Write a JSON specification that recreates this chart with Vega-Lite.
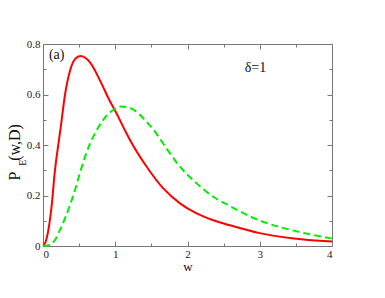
{
  "$schema": "https://vega.github.io/schema/vega-lite/v6.json",
  "width": 289,
  "height": 202,
  "autosize": "none",
  "padding": {"left": 43, "top": 44, "right": 53, "bottom": 52},
  "background": "white",
  "config": {"view": {"stroke": null}, "font": "Liberation Serif"},
  "datasets": {
    "curves": [
      {"s": "solid", "w": 0, "p": 0},
      {"s": "solid", "w": 0.03, "p": 0.012},
      {"s": "solid", "w": 0.074, "p": 0.063},
      {"s": "solid", "w": 0.12, "p": 0.16},
      {"s": "solid", "w": 0.16, "p": 0.285},
      {"s": "solid", "w": 0.21, "p": 0.398},
      {"s": "solid", "w": 0.245, "p": 0.47},
      {"s": "solid", "w": 0.305, "p": 0.6},
      {"s": "solid", "w": 0.374, "p": 0.694},
      {"s": "solid", "w": 0.443, "p": 0.74},
      {"s": "solid", "w": 0.52, "p": 0.752},
      {"s": "solid", "w": 0.65, "p": 0.727},
      {"s": "solid", "w": 0.79, "p": 0.655},
      {"s": "solid", "w": 0.923, "p": 0.575},
      {"s": "solid", "w": 0.997, "p": 0.537},
      {"s": "solid", "w": 1.135, "p": 0.458},
      {"s": "solid", "w": 1.204, "p": 0.42},
      {"s": "solid", "w": 1.435, "p": 0.314},
      {"s": "solid", "w": 1.665, "p": 0.228},
      {"s": "solid", "w": 1.896, "p": 0.169},
      {"s": "solid", "w": 2.127, "p": 0.129},
      {"s": "solid", "w": 2.357, "p": 0.102},
      {"s": "solid", "w": 2.588, "p": 0.082},
      {"s": "solid", "w": 2.98, "p": 0.052},
      {"s": "solid", "w": 3.44, "p": 0.031},
      {"s": "solid", "w": 4.0, "p": 0.018},
      {"s": "dashed", "w": 0, "p": 0},
      {"s": "dashed", "w": 0.074, "p": 0.003},
      {"s": "dashed", "w": 0.166, "p": 0.024},
      {"s": "dashed", "w": 0.235, "p": 0.063},
      {"s": "dashed", "w": 0.305, "p": 0.11},
      {"s": "dashed", "w": 0.374, "p": 0.162},
      {"s": "dashed", "w": 0.443, "p": 0.222},
      {"s": "dashed", "w": 0.51, "p": 0.288},
      {"s": "dashed", "w": 0.58, "p": 0.352},
      {"s": "dashed", "w": 0.65, "p": 0.405},
      {"s": "dashed", "w": 0.766, "p": 0.47},
      {"s": "dashed", "w": 0.88, "p": 0.516},
      {"s": "dashed", "w": 0.997, "p": 0.543},
      {"s": "dashed", "w": 1.08, "p": 0.552},
      {"s": "dashed", "w": 1.2, "p": 0.547},
      {"s": "dashed", "w": 1.34, "p": 0.52},
      {"s": "dashed", "w": 1.41, "p": 0.499},
      {"s": "dashed", "w": 1.57, "p": 0.445},
      {"s": "dashed", "w": 1.665, "p": 0.405},
      {"s": "dashed", "w": 1.896, "p": 0.314},
      {"s": "dashed", "w": 2.127, "p": 0.248},
      {"s": "dashed", "w": 2.357, "p": 0.195},
      {"s": "dashed", "w": 2.588, "p": 0.158},
      {"s": "dashed", "w": 2.98, "p": 0.103},
      {"s": "dashed", "w": 3.44, "p": 0.063},
      {"s": "dashed", "w": 4.0, "p": 0.03}
    ],
    "notes": [
      {"w": 0.19, "p": 0.756, "t": "(a)"},
      {"w": 2.94, "p": 0.704, "t": "δ=1"}
    ],
    "ytitle": [
      {"w": -0.39, "p": 0.277, "t": "P", "k": "big"},
      {"w": -0.39, "p": 0.41, "t": "(w,D)", "k": "big"},
      {"w": -0.28, "p": 0.33, "t": "E", "k": "small"}
    ]
  },
  "resolve": {"axis": {"x": "independent", "y": "independent"}},
  "layer": [
    {
      "data": {"name": "curves"},
      "transform": [{"filter": "datum.s == 'solid'"}],
      "mark": {"type": "line", "color": "#ff0000", "strokeWidth": 2, "interpolate": "monotone"},
      "encoding": {
        "x": {"field": "w", "type": "quantitative", "scale": {"domain": [0, 4], "nice": false, "zero": false},
          "axis": {"orient": "bottom", "values": [0, 1, 2, 3, 4], "tickSize": -5, "labelPadding": 7, "domainColor": "#777", "tickColor": "#777", "labelFont": "Liberation Serif", "labelFontSize": 11, "labelColor": "#222", "grid": false, "title": "w", "titleFont": "Liberation Serif", "titleFontSize": 13, "titleFontWeight": "normal", "titleColor": "#111", "titlePadding": 1}},
        "y": {"field": "p", "type": "quantitative", "scale": {"domain": [0, 0.8], "nice": false, "zero": false},
          "axis": {"orient": "left", "values": [0, 0.2, 0.4, 0.6, 0.8], "tickSize": -5, "labelPadding": 8, "domainColor": "#777", "tickColor": "#777", "labelFont": "Liberation Serif", "labelFontSize": 11, "labelColor": "#222", "grid": false, "title": null, "labelExpr": "datum.value == 0 ? '0' : format(datum.value, '.1f')"}}
      }
    },
    {
      "data": {"name": "curves"},
      "transform": [{"filter": "datum.s == 'dashed'"}],
      "mark": {"type": "line", "color": "#00ee00", "strokeWidth": 2, "strokeDash": [7, 4], "interpolate": "monotone"},
      "encoding": {
        "x": {"field": "w", "type": "quantitative", "axis": {"orient": "bottom", "values": [0.5, 1.5, 2.5, 3.5], "tickSize": -3, "labels": false, "domain": false, "tickColor": "#777", "grid": false, "title": null}},
        "y": {"field": "p", "type": "quantitative", "axis": {"orient": "left", "values": [0.1, 0.3, 0.5, 0.7], "tickSize": -3, "labels": false, "domain": false, "tickColor": "#777", "grid": false, "title": null}}
      }
    },
    {
      "data": {"name": "notes"},
      "mark": {"type": "text", "font": "Liberation Serif", "fontSize": 14, "color": "#111", "align": "center", "baseline": "middle"},
      "encoding": {
        "x": {"field": "w", "type": "quantitative", "axis": {"orient": "top", "values": [0, 1, 2, 3, 4], "tickSize": -5, "labels": false, "domainColor": "#777", "tickColor": "#777", "grid": false, "title": null}},
        "y": {"field": "p", "type": "quantitative", "axis": {"orient": "right", "values": [0, 0.2, 0.4, 0.6, 0.8], "tickSize": -5, "labels": false, "domainColor": "#777", "tickColor": "#777", "grid": false, "title": null}},
        "text": {"field": "t"}
      }
    },
    {
      "data": {"name": "ytitle"},
      "mark": {"type": "text", "font": "Liberation Serif", "color": "#111", "align": "center", "baseline": "middle", "angle": 270},
      "encoding": {
        "x": {"field": "w", "type": "quantitative", "axis": {"orient": "top", "values": [0.5, 1.5, 2.5, 3.5], "tickSize": -3, "labels": false, "domain": false, "tickColor": "#777", "grid": false, "title": null}},
        "y": {"field": "p", "type": "quantitative", "axis": {"orient": "right", "values": [0.1, 0.3, 0.5, 0.7], "tickSize": -3, "labels": false, "domain": false, "tickColor": "#777", "grid": false, "title": null}},
        "text": {"field": "t"},
        "size": {"field": "k", "type": "nominal", "scale": {"domain": ["big", "small"], "range": [16, 10]}, "legend": null}
      }
    }
  ]
}
